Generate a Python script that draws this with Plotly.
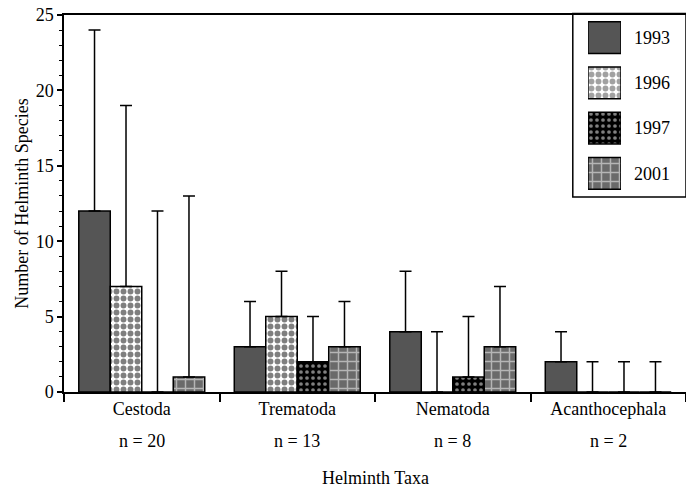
import plotly.graph_objects as go

taxa = ["Cestoda", "Trematoda", "Nematoda", "Acanthocephala"]
sample_sizes = ["n = 20", "n = 13", "n = 8", "n = 2"]
years = ["1993", "1996", "1997", "2001"]

values_1993 = [12, 3, 4, 2]
values_1996 = [7, 5, 0, 0]
values_1997 = [0, 2, 1, 0]
values_2001 = [1, 3, 3, 0]
errors_up = [12, 3, 4, 2]

series = [values_1993, values_1996, values_1997, values_2001]

FONT = "Liberation Serif"

patterns = [
    dict(shape="", fgcolor="#555555", bgcolor="#555555", size=6, solidity=0.3),
    dict(shape=".", fgcolor="black", bgcolor="white", size=7, solidity=0.55),
    dict(shape=".", fgcolor="white", bgcolor="black", size=6, solidity=0.3),
    dict(shape="+", fgcolor="white", bgcolor="#6a6a6a", size=9, solidity=0.3),
]
colors = ["#555555", "white", "black", "#6a6a6a"]

fig = go.Figure()
for yr, vals, pat, col in zip(years, series, patterns, colors):
    fig.add_trace(go.Bar(
        x=taxa, y=vals, name=yr,
        marker=dict(color=col, pattern=pat, line=dict(color="black", width=1.5)),
        error_y=dict(type="data", symmetric=False, array=errors_up,
                     arrayminus=[0] * len(vals), color="black", thickness=1.5, width=6),
        showlegend=False,
    ))

# custom legend built as a small bar chart
fig.add_trace(go.Bar(
    x=[1] * len(years), y=years, orientation="h", xaxis="x2", yaxis="y2",
    marker=dict(
        color=colors,
        pattern=dict(shape=[p["shape"] for p in patterns],
                     fgcolor=[p["fgcolor"] for p in patterns],
                     bgcolor=[p["bgcolor"] for p in patterns],
                     size=[p["size"] for p in patterns],
                     solidity=[p["solidity"] for p in patterns]),
        line=dict(color="black", width=1.5)),
    showlegend=False, hoverinfo="skip", width=0.7,
))

for t, n in zip(taxa, sample_sizes):
    fig.add_annotation(x=t, y=-0.13, xref="x", yref="paper", text=n, showarrow=False,
                       font=dict(family=FONT, size=18, color="black"), yanchor="middle")

fig.add_annotation(x=0.5, y=-0.228, xref="paper", yref="paper", text="Helminth Taxa",
                   showarrow=False, font=dict(family=FONT, size=18, color="black"),
                   yanchor="middle")

fig.add_shape(type="rect", xref="paper", yref="paper", x0=0.818, x1=1.0, y0=0.517, y1=1.004,
              line=dict(color="black", width=1.5), fillcolor="white", layer="below")

fig.update_layout(
    width=686, height=492,
    margin=dict(l=64, r=0, t=15, b=100),
    paper_bgcolor="white", plot_bgcolor="white",
    barmode="group", bargap=0.19, bargroupgap=0,
    font=dict(family=FONT, size=18, color="black"),
    xaxis=dict(type="category", showline=True, linecolor="black", linewidth=1.5, mirror=True,
               ticks="outside", tickson="boundaries", ticklen=8, tickwidth=1.5, tickcolor="black",
               showgrid=False, zeroline=False, automargin=False),
    yaxis=dict(range=[0, 25], tickvals=[0, 5, 10, 15, 20, 25], showline=True, linecolor="black",
               linewidth=1.5, mirror=True, ticks="outside", ticklen=5, tickwidth=1.5, tickcolor="black",
               minor=dict(dtick=1, ticks="outside", ticklen=3, tickwidth=1, tickcolor="black"),
               showgrid=False, zeroline=False, automargin=False,
               title=dict(text="Number of Helminth Species", standoff=2, font=dict(size=18))),
    xaxis2=dict(domain=[0.8424, 0.8955], range=[0, 1], anchor="y2", visible=False, automargin=False),
    yaxis2=dict(domain=[0.52, 1.0], anchor="x2", side="right", type="category",
                autorange="reversed", showline=False, showgrid=False, zeroline=False,
                ticks="", ticklabelstandoff=12, tickfont=dict(size=18), automargin=False),
)

fig.write_html("out.html", config={"displayModeBar": False},
               post_script="document.body.style.margin='0';")
